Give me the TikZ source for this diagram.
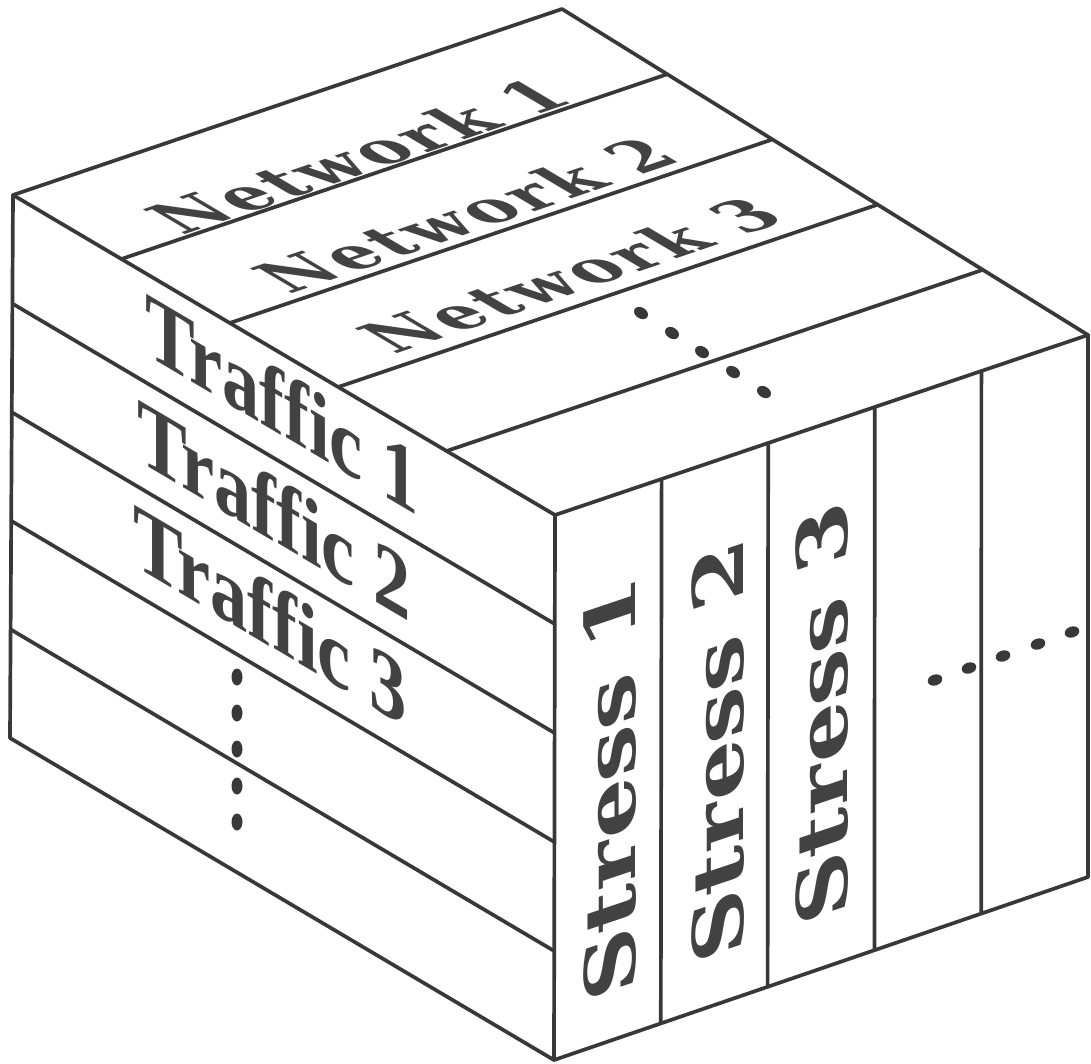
\documentclass[tikz,border=0pt]{standalone}
\usepackage{fontspec}
\usetikzlibrary{calc}
\newfontfamily\netfont[LetterSpace=6]{DejaVu Serif}
\newfontfamily\strfont{DejaVu Serif}
\newfontfamily\trafont[Ligatures=NoCommon]{Liberation Serif}
\definecolor{ink}{HTML}{383838}
\definecolor{txt}{HTML}{424242}
\tikzset{
  edge/.style={draw=ink, line width=2.1pt, line join=round, line cap=round},
  netlab/.style={inner sep=0pt, text=txt, font=\netfont\bfseries\fontsize{38}{38}\selectfont,
     cm={0.947,0.321,-0.862,0.509,(0,0)}},
  tralab/.style={inner sep=0pt, text=txt, font=\trafont\bfseries\fontsize{53}{53}\selectfont,
     cm={0.80,-0.473,0,1,(0,0)}},
  strlab/.style={inner sep=0pt, text=txt, font=\strfont\bfseries\fontsize{42}{42}\selectfont,
     cm={0,1.25,-0.947,-0.319,(0,0)}},
  dotmark/.style={fill=ink, draw=none}
}
\begin{document}
\begin{tikzpicture}[x=0.02cm, y=-0.02cm]
\useasboundingbox (0,0) rectangle (1091,1063);
% corners
\coordinate (L1) at (13,195);
\coordinate (T)  at (562,9);
\coordinate (R1) at (1088,335);
\coordinate (F1) at (555,515);
\coordinate (L2) at (10,738);
\coordinate (F2) at (554,1060);
\coordinate (R2) at (1088,877);
% outline
\draw[edge] (L1) -- (T) -- (R1) -- (R2) -- (F2) -- (L2) -- cycle;
\draw[edge] (L1) -- (F1) -- (R1);
\draw[edge] (F1) -- (F2);
% strips
\foreach \k in {1,2,3,4}{
  \draw[edge] ($(L1)!\k/5!(F1)$) -- ($(T)!\k/5!(R1)$);
  \draw[edge] ($(L1)!\k/5!(L2)$) -- ($(F1)!\k/5!(F2)$);
  \draw[edge] ($(F1)!\k/5!(R1)$) -- ($(F2)!\k/5!(R2)$);
}
% labels
\node[netlab] (n1) at (358,156) {Network 1};
\node[netlab] (n2) at (465,215) {Network 2};
\node[netlab] (n3) at (570,275) {Network 3};
\node[tralab] (t1) at (282,403) {Traffic 1};
\node[tralab] (t2) at (274,509) {Traffic 2};
\node[tralab] (t3) at (270,614) {Traffic 3};
\node[strlab] (s1) at (610,790) {Stress 1};
\node[strlab] (s2) at (718,752) {Stress 2};
\node[strlab] (s3) at (822,714) {Stress 3};
% dots
\foreach \x/\y in {641/313,672/333,702/352,733/372,764/392}
  \fill[dotmark, rotate around={-32:(\x,\y)}] (\x,\y) ellipse [x radius=7.5, y radius=5.5];
\foreach \y in {677,713,749,786,822}
  \fill[dotmark] (237,\y) ellipse [x radius=5.5, y radius=8.5];
\foreach \x/\y in {935/680,969/668,1003/656,1038/644,1072/632}
  \fill[dotmark, rotate around={18:(\x,\y)}] (\x,\y) ellipse [x radius=7.5, y radius=5.5];
\end{tikzpicture}
\end{document}
